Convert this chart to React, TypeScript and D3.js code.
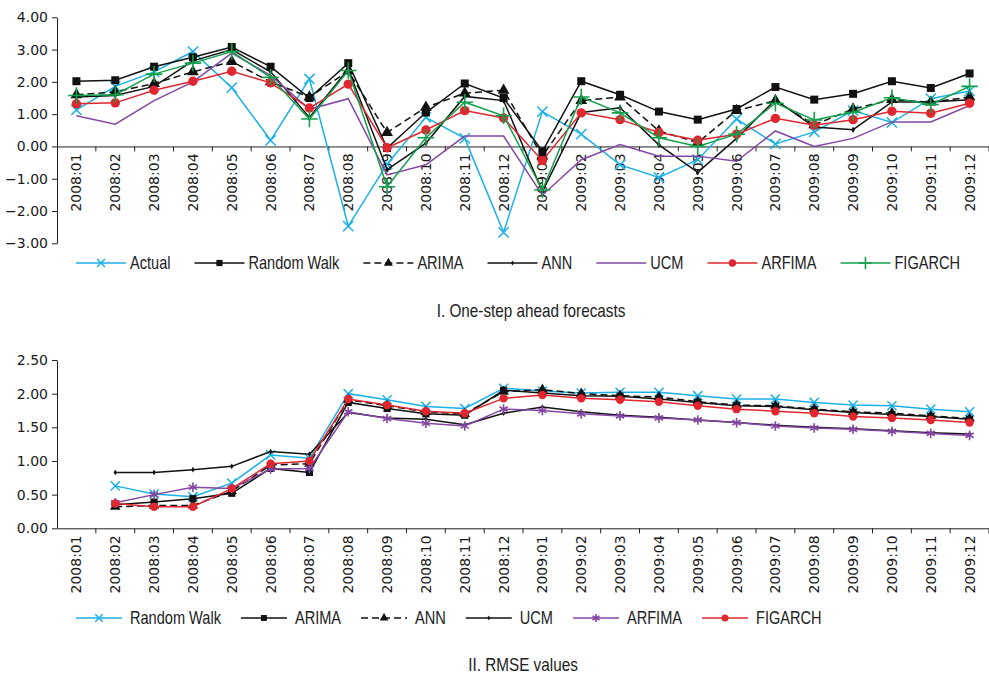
import React, { useEffect, useRef } from "react";
import * as d3 from "d3";

const months = [
  "2008:01", "2008:02", "2008:03", "2008:04", "2008:05", "2008:06",
  "2008:07", "2008:08", "2008:09", "2008:10", "2008:11", "2008:12",
  "2009:01", "2009:02", "2009:03", "2009:04", "2009:05", "2009:06",
  "2009:07", "2009:08", "2009:09", "2009:10", "2009:11", "2009:12"
];

// Panel I: one-step ahead forecasts
const actual = [1.13, 1.86, 2.31, 2.94, 1.82, 0.19, 2.09, -2.47, -0.55, 0.9, 0.25, -2.66, 1.08, 0.38, -0.57, -0.96, -0.41, 0.85, 0.08, 0.45, 1.11, 0.74, 1.48, 1.72];
const randomWalk = [2.02, 2.05, 2.47, 2.76, 3.08, 2.47, 1.5, 2.58, -0.05, 1.05, 1.95, 1.5, -0.15, 2.02, 1.6, 1.08, 0.83, 1.16, 1.84, 1.45, 1.63, 2.02, 1.81, 2.26];
const arima = [1.6, 1.69, 1.95, 2.31, 2.63, 2.0, 1.53, 2.33, 0.43, 1.21, 1.65, 1.74, -0.3, 1.42, 1.53, 0.48, 0.12, 1.11, 1.42, 0.67, 1.16, 1.45, 1.37, 1.53];
const ann = [1.53, 1.58, 1.86, 2.65, 3.0, 2.31, 0.9, 2.4, -0.72, 0.1, 1.55, 1.42, -1.4, 1.05, 1.2, 0.05, -0.8, 0.25, 1.45, 0.6, 0.52, 1.38, 1.38, 1.45];
const ucm = [0.95, 0.69, 1.42, 2.0, 2.89, 2.2, 1.15, 1.48, -0.88, -0.57, 0.32, 0.32, -1.51, -0.41, 0.06, -0.3, -0.3, -0.46, 0.48, 0.0, 0.25, 0.76, 0.76, 1.27];
const arfima = [1.32, 1.35, 1.74, 2.02, 2.33, 1.97, 1.19, 1.93, -0.04, 0.51, 1.11, 0.88, -0.44, 1.04, 0.83, 0.43, 0.19, 0.38, 0.87, 0.66, 0.83, 1.09, 1.03, 1.34];
const figarch = [1.58, 1.6, 2.24, 2.58, 2.94, 2.14, 0.85, 2.35, -1.25, 0.27, 1.37, 0.95, -1.35, 1.53, 1.04, 0.27, 0.0, 0.38, 1.34, 0.82, 1.06, 1.51, 1.3, 1.86];

// Panel II: RMSE values (no value for the first month)
const rmseRandomWalk = [null, 0.63, 0.51, 0.47, 0.67, 1.09, 1.04, 2.0, 1.91, 1.81, 1.78, 2.08, 2.04, 2.01, 2.02, 2.02, 1.97, 1.92, 1.92, 1.87, 1.83, 1.82, 1.77, 1.73];
const rmseArima = [null, 0.35, 0.39, 0.44, 0.52, 0.89, 0.83, 1.87, 1.78, 1.7, 1.68, 2.05, 2.01, 1.97, 1.96, 1.92, 1.87, 1.82, 1.81, 1.76, 1.72, 1.69, 1.66, 1.62];
const rmseAnn = [null, 0.32, 0.34, 0.34, 0.55, 0.94, 0.96, 1.91, 1.82, 1.73, 1.7, 2.03, 2.06, 2.0, 1.97, 1.95, 1.88, 1.83, 1.82, 1.77, 1.73, 1.71, 1.67, 1.63];
const rmseUcm = [null, 0.83, 0.83, 0.87, 0.92, 1.14, 1.1, 1.72, 1.64, 1.62, 1.54, 1.71, 1.8, 1.73, 1.68, 1.65, 1.61, 1.57, 1.53, 1.5, 1.48, 1.45, 1.42, 1.4];
const rmseArfima = [null, 0.38, 0.5, 0.61, 0.59, 0.88, 0.89, 1.73, 1.63, 1.56, 1.52, 1.77, 1.75, 1.7, 1.67, 1.64, 1.61, 1.57, 1.52, 1.49, 1.47, 1.44, 1.41, 1.38];
const rmseFigarch = [null, 0.37, 0.32, 0.32, 0.59, 0.96, 1.0, 1.92, 1.83, 1.74, 1.71, 1.93, 1.98, 1.93, 1.91, 1.88, 1.82, 1.77, 1.74, 1.71, 1.66, 1.64, 1.61, 1.57];

const topTicks = [-3, -2, -1, 0, 1, 2, 3, 4];
const bottomTicks = [0, 0.5, 1, 1.5, 2, 2.5];

const CYAN = "#1bb0e8";
const BLACK = "#111";
const PURPLE = "#8447a3";
const RED = "#e0262f";
const GREEN = "#13a04c";

type Marker = "x" | "square" | "triangle" | "dot" | "none" | "circle" | "plus" | "asterisk";

interface Series {
  name: string;
  values: (number | null)[];
  color: string;
  marker: Marker;
  dashed?: boolean;
}

const topSeries: Series[] = [
  { name: "Actual", values: actual, color: CYAN, marker: "x" },
  { name: "Random Walk", values: randomWalk, color: BLACK, marker: "square" },
  { name: "ARIMA", values: arima, color: BLACK, marker: "triangle", dashed: true },
  { name: "ANN", values: ann, color: BLACK, marker: "dot" },
  { name: "UCM", values: ucm, color: PURPLE, marker: "none" },
  { name: "ARFIMA", values: arfima, color: RED, marker: "circle" },
  { name: "FIGARCH", values: figarch, color: GREEN, marker: "plus" }
];

const bottomSeries: Series[] = [
  { name: "Random Walk", values: rmseRandomWalk, color: CYAN, marker: "x" },
  { name: "ARIMA", values: rmseArima, color: BLACK, marker: "square" },
  { name: "ANN", values: rmseAnn, color: BLACK, marker: "triangle", dashed: true },
  { name: "UCM", values: rmseUcm, color: BLACK, marker: "dot" },
  { name: "ARFIMA", values: rmseArfima, color: PURPLE, marker: "asterisk" },
  { name: "FIGARCH", values: rmseFigarch, color: RED, marker: "circle" }
];

const TICK_FONT = "'DejaVu Sans', sans-serif";
const LABEL_FONT = "'Liberation Sans', Arial, sans-serif";

type G = d3.Selection<SVGGElement, unknown, null, undefined>;

const drawMarker = (g: G, marker: Marker, color: string, cx: number, cy: number, scale = 1) => {
  const tr = `translate(${cx},${cy})`;
  if (marker === "square") {
    g.append("path").attr("transform", tr)
      .attr("d", d3.symbol(d3.symbolSquare, 64 * scale)()).attr("fill", color);
  } else if (marker === "triangle") {
    g.append("path").attr("transform", tr)
      .attr("d", d3.symbol(d3.symbolTriangle, 60 * scale)()).attr("fill", color);
  } else if (marker === "circle") {
    g.append("path").attr("transform", tr)
      .attr("d", d3.symbol(d3.symbolCircle, 70 * scale)()).attr("fill", color);
  } else if (marker === "dot") {
    g.append("path").attr("transform", tr)
      .attr("d", d3.symbol(d3.symbolDiamond, 12 * scale)()).attr("fill", color);
  } else if (marker === "x") {
    g.append("path").attr("transform", tr)
      .attr("d", d3.symbol(d3.symbolTimes, 70 * scale)())
      .attr("fill", "none").attr("stroke", color).attr("stroke-width", 1.5);
  } else if (marker === "plus") {
    g.append("path").attr("transform", tr)
      .attr("d", d3.symbol(d3.symbolPlus, 90 * scale)())
      .attr("fill", "none").attr("stroke", color).attr("stroke-width", 1.6);
  } else if (marker === "asterisk") {
    g.append("path").attr("transform", tr)
      .attr("d", d3.symbol(d3.symbolAsterisk, 80 * scale)())
      .attr("fill", "none").attr("stroke", color).attr("stroke-width", 1.6);
  }
};

// condensed text: the regular face squeezed horizontally
const narrowText = (g: G, x: number, y: number, label: string, squeeze: number, anchor = "start") => {
  const t = g.append("text")
    .attr("transform", `translate(${x},${y}) scale(${squeeze},1)`)
    .attr("text-anchor", anchor)
    .attr("dy", "0.36em")
    .attr("font-family", LABEL_FONT)
    .attr("font-size", 18)
    .attr("fill", "#222")
    .text(label);
  return (t.node() as SVGTextElement).getComputedTextLength() * squeeze;
};

const App: React.FC = () => {
  const svgRef = useRef<SVGSVGElement | null>(null);

  useEffect(() => {
    if (!svgRef.current) return;
    const svg = d3.select(svgRef.current);
    svg.selectAll("*").remove();

    const x = d3.scaleBand<string>().domain(months).range([57, 989]).padding(0);
    const cx = (m: string) => (x(m) as number) + x.bandwidth() / 2;

    const drawPanel = (
      series: Series[],
      y: d3.ScaleLinear<number, number>,
      ticks: number[],
      axisY: number,
      markerScale: number
    ) => {
      const g = svg.append("g");

      // y axis
      const yAxis = g.append("g")
        .attr("transform", "translate(57,0)")
        .call(d3.axisLeft(y).tickValues(ticks).tickFormat(d3.format(".2f")).tickSize(5).tickSizeOuter(0).tickPadding(4));
      yAxis.selectAll("text").attr("font-family", TICK_FONT).attr("font-size", 14).attr("fill", "#1a1a1a");
      yAxis.selectAll("line, path").attr("stroke", "#222");

      // x axis: labels at band centres, ticks at band edges
      const xAxis = g.append("g")
        .attr("transform", `translate(0,${axisY})`)
        .call(d3.axisBottom(x).tickSize(0).tickSizeOuter(0));
      xAxis.select(".domain").attr("stroke", "#222");
      xAxis.selectAll(".tick text")
        .attr("font-family", TICK_FONT)
        .attr("font-size", 14)
        .attr("fill", "#1a1a1a")
        .attr("text-anchor", "end")
        .attr("transform", "translate(0,7) rotate(-90)")
        .attr("x", 0)
        .attr("y", 0)
        .attr("dy", "0.36em");
      g.append("g").selectAll("line")
        .data(months.slice(1).concat(["end"]))
        .enter()
        .append("line")
        .attr("x1", d => (d === "end" ? x.range()[1] : (x(d) as number)))
        .attr("x2", d => (d === "end" ? x.range()[1] : (x(d) as number)))
        .attr("y1", axisY)
        .attr("y2", axisY + 5)
        .attr("stroke", "#222");

      // series
      series.forEach(s => {
        const pts = s.values.map((v, i) => ({ m: months[i], v }));
        const line = d3.line<{ m: string; v: number | null }>()
          .defined(d => d.v !== null)
          .x(d => cx(d.m))
          .y(d => y(d.v as number));
        g.append("path")
          .datum(pts)
          .attr("d", line)
          .attr("fill", "none")
          .attr("stroke", s.color)
          .attr("stroke-width", 1.5)
          .attr("stroke-dasharray", s.dashed ? "7,4" : null);
        const mg = g.append("g");
        pts.filter(p => p.v !== null).forEach(p => drawMarker(mg, s.marker, s.color, cx(p.m), y(p.v as number), markerScale));
      });
    };

    const drawLegend = (series: Series[], startX: number, cy: number, lineLen: number, gap: number, spacing: number, markerScale: number) => {
      const g = svg.append("g");
      let px = startX;
      series.forEach(s => {
        g.append("line")
          .attr("x1", px).attr("x2", px + lineLen)
          .attr("y1", cy).attr("y2", cy)
          .attr("stroke", s.color).attr("stroke-width", 1.5)
          .attr("stroke-dasharray", s.dashed ? "7,4" : null);
        drawMarker(g, s.marker, s.color, px + lineLen / 2, cy, markerScale);
        const w = narrowText(g, px + lineLen + gap, cy, s.name, 0.81);
        px += lineLen + gap + w + spacing;
      });
    };

    const yTop = d3.scaleLinear().domain([-3, 4]).range([243.3, 17.3]);
    drawPanel(topSeries, yTop, topTicks, yTop(0), 1);
    drawLegend(topSeries, 76, 263, 50, 4, 24, 0.6);
    narrowText(svg.append("g") as unknown as G, 531, 311, "I. One-step ahead forecasts", 0.85, "middle");

    const yBottom = d3.scaleLinear().domain([0, 2.5]).range([528.3, 360]);
    drawPanel(bottomSeries, yBottom, bottomTicks, yBottom(0), 0.8);
    drawLegend(bottomSeries, 76, 618, 46, 8, 20, 0.55);
    narrowText(svg.append("g") as unknown as G, 523, 665, "II. RMSE values", 0.85, "middle");
  }, []);

  return (
    <svg
      ref={svgRef}
      width={989}
      height={675}
      style={{ position: "absolute", left: 0, top: 0, background: "#fff" }}
    />
  );
};

export default App;
